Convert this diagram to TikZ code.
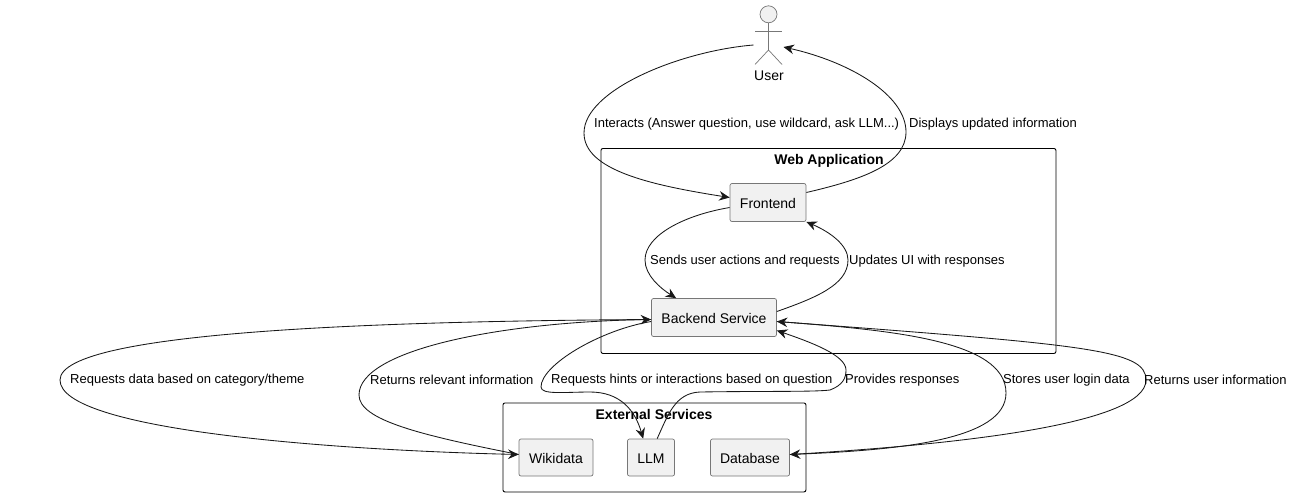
\documentclass[tikz,border=0pt]{standalone}
\usepackage{fontspec}
\setmainfont{Liberation Sans}
\usetikzlibrary{arrows.meta,calc}
\definecolor{ln}{HTML}{181818}
\definecolor{bx}{HTML}{F1F1F1}
\definecolor{br}{HTML}{777777}
\newcommand{\lowr}[1]{\raisebox{-1pt}[\height][\depth]{#1}}
\tikzset{
  x=1pt,y=-1pt,
  comp/.style={draw=br,fill=bx,line width=0.7pt,rounded corners=2pt,inner sep=0pt,font=\fontsize{14}{16}\selectfont,text=black},
  clus/.style={draw=black,line width=0.9pt,rounded corners=2pt,fill=none},
  ttl/.style={font=\fontsize{14}{16}\selectfont\bfseries,inner sep=0pt},
  lbl/.style={anchor=west,inner sep=0pt,font=\fontsize{13}{15}\selectfont,text=black},
  conn/.style={draw=ln,line width=0.85pt,-{Stealth[length=10.5pt,width=9.5pt,inset=3.5pt]}},
  act/.style={draw=br,line width=0.7pt}
}
\begin{document}
\begin{tikzpicture}
\useasboundingbox (0,0) rectangle (1293,496);
\fill[white] (0,0) rectangle (1293,496);
% clusters
\node[clus,minimum width=455pt,minimum height=205pt,anchor=north west] (web) at (600.5,148) {};
\node[clus,minimum width=303pt,minimum height=89pt,anchor=north west] (ext) at (502.5,402.5) {};
\node[ttl] (webt) at (829,161) {Web Application};
\node[ttl] (extt) at (654,414.5) {External Services};
% components
\node[comp,minimum width=76pt,minimum height=38pt] (fe) at (768,202.5) {\lowr{Frontend}};
\node[comp,minimum width=125pt,minimum height=38pt] (be) at (714,317.5) {\lowr{Backend Service}};
\node[comp,minimum width=74pt,minimum height=37pt] (wd) at (556,457.5) {\lowr{Wikidata}};
\node[comp,minimum width=47pt,minimum height=37pt] (llm) at (651,457.5) {\lowr{LLM}};
\node[comp,minimum width=79pt,minimum height=37pt] (db) at (750,457.5) {\lowr{Database}};
% actor
\node[circle,draw=br,fill=bx,line width=0.7pt,minimum size=17pt,inner sep=0pt] (head) at (768.5,14.3) {};
\coordinate (uc) at (768.5,31);
\coordinate (hip) at (768.5,50);
\draw[act] (head.south) -- (hip);
\draw[act] ($(uc)+(-13.5,0)$) -- ($(uc)+(13.5,0)$);
\draw[act] ($(hip)+(-13.5,14.5)$) -- (hip) -- ($(hip)+(13.5,14.5)$);
\node[inner sep=0pt,font=\fontsize{14}{16}\selectfont] (user) at (769,75.5) {User};
% connectors
\draw[conn] ($(uc)+(-15,14)$) .. controls (680,51) and (584,90) .. (584,133) .. controls (584,170) and (650,185) .. ($(fe.west)+(0,-5)$);
\draw[conn] ($(fe.east)+(0,-10)$) .. controls (860,180) and (906,165) .. (906,132) .. controls (906,95) and (850,62) .. ($(uc)+(15,16)$);
\draw[conn] ($(fe.west)+(0,5)$) .. controls (685,215) and (645,235) .. (645,260) .. controls (645,275) and (660,288) .. ($(be.north west)+(25,0)$);
\draw[conn] ($(be.east)+(0,-6)$) .. controls (815,298) and (848,285) .. (848,260) .. controls (848,245) and (830,232) .. (fe.south east);
\draw[conn] ($(be.west)+(0,2)$) .. controls (400,321) and (60,330) .. (60,380) .. controls (60,430) and (330,450) .. ($(wd.west)+(0,-3)$);
\draw[conn] ($(wd.west)+(0,-3)$) .. controls (420,435) and (359,420) .. (359,395) .. controls (359,350) and (500,322) .. ($(be.west)+(0,2)$);
\draw[conn] ($(be.west)+(0,4)$) .. controls (600,330) and (541,365) .. (541,387) .. controls (541,395) and (565,392) .. (590,392) .. controls (620,392) and (635,410) .. ($(llm.north west)+(16,0)$);
\draw[conn] ($(llm.north west)+(30,0)$) .. controls (668,415) and (675,393) .. (700,392) .. controls (760,391) and (815,392) .. (830,390) .. controls (843,385) and (846,378) .. (846,370) .. controls (846,355) and (810,342) .. ($(be.east)+(0,13)$);
\draw[conn] ($(be.east)+(0,4)$) .. controls (890,330) and (1006,340) .. (1006,393) .. controls (1006,440) and (900,450) .. ($(db.east)+(0,-3)$);
\draw[conn] ($(db.east)+(0,-3)$) .. controls (950,445) and (1146,425) .. (1146,380) .. controls (1146,350) and (1090,345) .. ($(be.east)+(0,4)$);
% labels
\node[lbl] (l1) at (594,124.5) {Interacts (Answer question, use wildcard, ask LLM...)};
\node[lbl] (l2) at (909,124.5) {Displays updated information};
\node[lbl] (l3) at (650,261.5) {Sends user actions and requests};
\node[lbl] (l4) at (849,261.5) {Updates UI with responses};
\node[lbl] (l5) at (70,380) {Requests data based on category/theme};
\node[lbl] (l6) at (370,380) {Returns relevant information};
\node[lbl] (l7) at (551,380) {Requests hints or interactions based on question};
\node[lbl] (l8) at (845,380) {Provides responses};
\node[lbl] (l9) at (1003,380) {Stores user login data};
\node[lbl] (l10) at (1144,380) {Returns user information};
\end{tikzpicture}
\end{document}
